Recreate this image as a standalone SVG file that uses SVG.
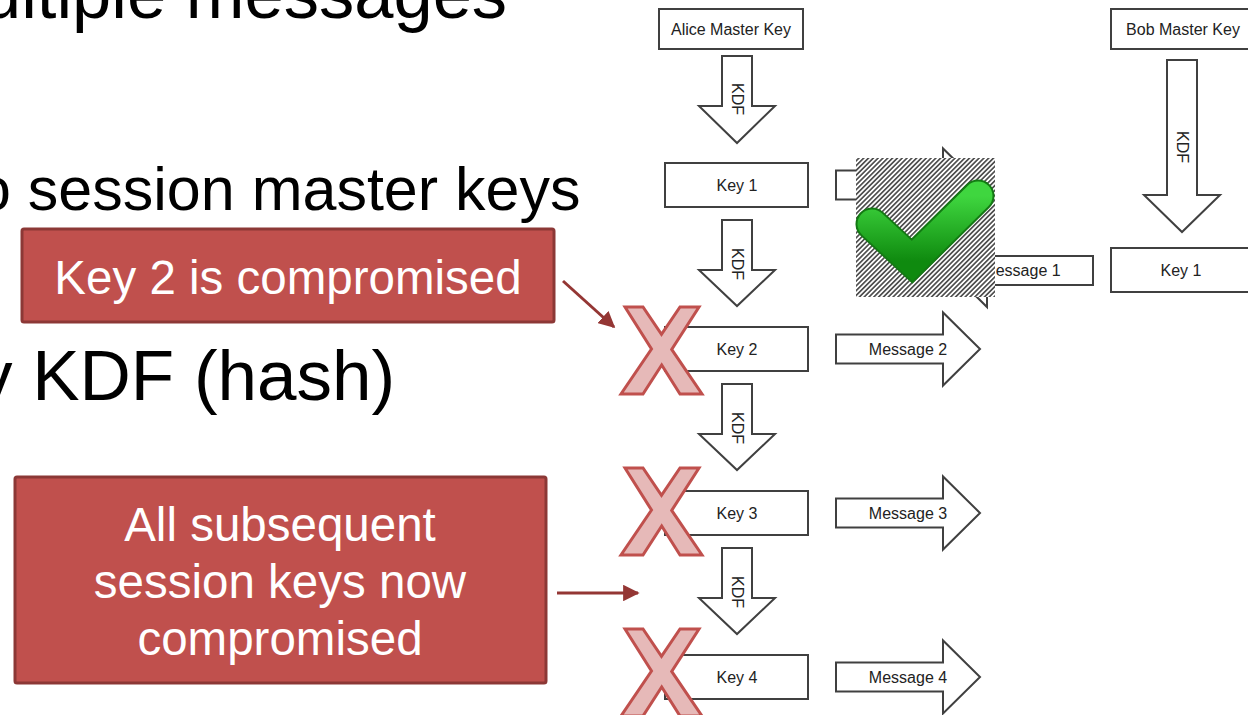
<svg xmlns="http://www.w3.org/2000/svg" width="1248" height="715" viewBox="0 0 1248 715">
<style>
.h{font-family:"Liberation Sans",Arial,sans-serif;fill:#000}
.box{fill:#fff;stroke:#404040;stroke-width:2}
.lbl{font-family:"Liberation Sans",Arial,sans-serif;font-size:16px;fill:#222;text-anchor:middle}
.callout{fill:#c0504d;stroke:#8c3836;stroke-width:3}
.ct{font-family:"Liberation Sans",Arial,sans-serif;font-size:47.5px;fill:#fff;text-anchor:middle}
.xm{fill:#e6b9b8;stroke:#c0504d;stroke-width:3;stroke-linejoin:miter}
.cl{stroke:#943634;stroke-width:3;fill:none}
</style>
<defs>
<pattern id="hatch" width="3.4" height="3.4" patternUnits="userSpaceOnUse" patternTransform="rotate(45)">
<rect width="3.4" height="3.4" fill="#fff"/>
<line x1="1.7" y1="0" x2="1.7" y2="3.4" stroke="#2a2a2a" stroke-width="1.4"/>
</pattern>
<linearGradient id="gr" x1="0" y1="0" x2="0" y2="1">
<stop offset="0" stop-color="#3fd63f"/>
<stop offset="1" stop-color="#0f8a0f"/>
</linearGradient>
<marker id="ah" viewBox="0 0 10 10" refX="9" refY="5" markerWidth="5.5" markerHeight="5.5" orient="auto" markerUnits="strokeWidth">
<path d="M0,0 L10,5 L0,10 z" fill="#943634"/>
</marker>
<path id="xmark" class="xm" d="M4,0 L22,0 L40.5,27.3 L59,0 L78,0 L50.7,42.4 L81,87 L59,87 L40.7,58 L22,87 L0,87 L30.5,42 Z"/>
</defs>
<rect width="1248" height="715" fill="#fff"/>

<!-- slide text -->
<g id="slide-text">
<text class="h" x="-18" y="18" font-size="70.5">ultiple messages</text>
<text class="h" x="-23" y="210" font-size="61">o session master keys</text>
<text class="h" x="-23" y="400" font-size="71">y KDF (hash)</text>
</g>

<!-- Alice chain -->
<g id="alice-master"><rect class="box" x="659" y="9" width="144" height="40"/><text class="lbl" x="731" y="35">Alice Master Key</text></g>
<g id="key1"><rect class="box" x="665" y="163" width="143" height="44"/><text class="lbl" x="737" y="191">Key 1</text></g>
<g id="key2"><rect class="box" x="665" y="327" width="143" height="44"/><text class="lbl" x="737" y="355">Key 2</text></g>
<g id="key3"><rect class="box" x="665" y="491" width="143" height="44"/><text class="lbl" x="737" y="519">Key 3</text></g>
<g id="key4"><rect class="box" x="665" y="655" width="143" height="44"/><text class="lbl" x="737" y="683">Key 4</text></g>

<g id="connectors">
<g id="kdf-a0"><path class="box" d="M722,56 H752 V106 H775 L737,143 L699,106 H722 Z"/><text class="lbl" transform="translate(731.5,99) rotate(90)">KDF</text></g>
<g id="kdf-a1"><path class="box" d="M722,220 H752 V270 H775 L737,306 L699,270 H722 Z"/><text class="lbl" transform="translate(731.5,264) rotate(90)">KDF</text></g>
<g id="kdf-a2"><path class="box" d="M722,384 H752 V434 H775 L737,470 L699,434 H722 Z"/><text class="lbl" transform="translate(731.5,428) rotate(90)">KDF</text></g>
<g id="kdf-a3"><path class="box" d="M722,548 H752 V598 H775 L737,634 L699,598 H722 Z"/><text class="lbl" transform="translate(731.5,592) rotate(90)">KDF</text></g>
<g id="kdf-b"><path class="box" d="M1167,60 H1197 V195 H1220 L1182,232 L1144,195 H1167 Z"/><text class="lbl" transform="translate(1176.5,147) rotate(90)">KDF</text></g>

<g id="msg1-alice"><path class="box" d="M836,170.5 H943 V148.5 L980,185 L943,221.5 V199.5 H836 Z"/></g>
<g id="msg2"><path class="box" d="M836,334.5 H943 V312.5 L980,349 L943,385.5 V363.5 H836 Z"/><text class="lbl" x="908" y="355">Message 2</text></g>
<g id="msg3"><path class="box" d="M836,498.5 H943 V476.5 L980,513 L943,549.5 V527.5 H836 Z"/><text class="lbl" x="908" y="519">Message 3</text></g>
<g id="msg4"><path class="box" d="M836,662.5 H943 V640.5 L980,677 L943,713.5 V691.5 H836 Z"/><text class="lbl" x="908" y="683">Message 4</text></g>
<g id="msg1-bob"><path class="box" d="M1093,256 H987 V234 L950,270.5 L987,307 V285 H1093 Z"/><text class="lbl" x="1021.5" y="276">Message 1</text></g>
</g>

<!-- Bob -->
<g id="bob-master"><rect class="box" x="1111" y="9" width="144" height="40"/><text class="lbl" x="1183" y="35">Bob Master Key</text></g>
<g id="bob-key1"><rect class="box" x="1111" y="248" width="144" height="44"/><text class="lbl" x="1181" y="276">Key 1</text></g>

<!-- check mark image -->
<g id="check">
<rect x="856" y="158" width="139" height="139" fill="url(#hatch)"/>
<path d="M872,224 L912,261 L978,196" fill="none" stroke="#137a13" stroke-width="33" stroke-linecap="round" stroke-linejoin="miter"/>
<path d="M872,224 L912,261 L978,196" fill="none" stroke="url(#gr)" stroke-width="29" stroke-linecap="round" stroke-linejoin="miter"/>
</g>

<!-- X marks -->
<g id="x2"><use href="#xmark" x="621" y="307"/></g>
<g id="x3"><use href="#xmark" x="621" y="468"/></g>
<g id="x4"><use href="#xmark" x="621" y="629"/></g>

<!-- callouts -->
<g id="callout1">
<rect class="callout" x="22" y="229" width="532" height="93" rx="2"/>
<text class="ct" x="288" y="294">Key 2 is compromised</text>
</g>
<g id="callout2">
<rect class="callout" x="15" y="477" width="531" height="206" rx="2"/>
<text class="ct" x="280" y="541">All subsequent</text>
<text class="ct" x="280" y="598">session keys now</text>
<text class="ct" x="280" y="655">compromised</text>
</g>
<g id="callout-arrows">
<line class="cl" x1="563" y1="281" x2="614" y2="327" marker-end="url(#ah)"/>
<line class="cl" x1="557" y1="593" x2="638" y2="593" marker-end="url(#ah)"/>
</g>
</svg>
